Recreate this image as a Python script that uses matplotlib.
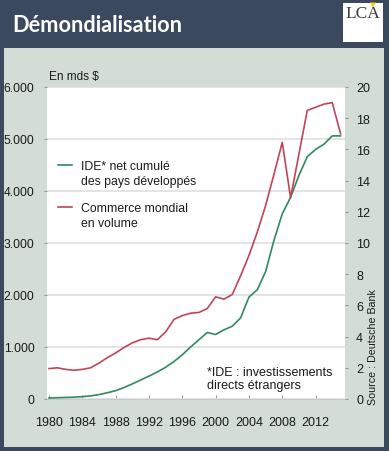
import matplotlib
matplotlib.use("Agg")
import matplotlib.pyplot as plt
from matplotlib.patches import Rectangle, Polygon
from matplotlib.lines import Line2D
from matplotlib.ticker import FuncFormatter

plt.rcParams['font.family'] = ['Liberation Sans', 'DejaVu Sans']

years = list(range(1980, 2016))

# IDE net cumulé des pays développés (mds $, axe gauche)
ide = [20, 25, 30, 35, 45, 60, 85, 120, 160, 220,
       290, 365, 440, 520, 610, 720, 850, 1000, 1140, 1280,
       1240, 1330, 1400, 1560, 1960, 2100, 2450, 3050, 3560, 3880,
       4300, 4660, 4800, 4900, 5060, 5060]

# Commerce mondial en volume (milliers de mds $, axe droit)
commerce = [1.95, 2.0, 1.9, 1.84, 1.9, 2.0, 2.3, 2.65, 2.95, 3.3,
            3.6, 3.8, 3.9, 3.8, 4.3, 5.1, 5.35, 5.5, 5.55, 5.8,
            6.55, 6.4, 6.7, 7.9, 9.2, 10.7, 12.4, 14.4, 16.45, 12.9,
            15.7, 18.5, 18.7, 18.9, 19.0, 17.0]

xticks = [1980, 1984, 1988, 1992, 1996, 2000, 2004, 2008, 2012]
left_ticks = [0, 1000, 2000, 3000, 4000, 5000, 6000]
right_ticks = [0, 2, 4, 6, 8, 10, 12, 14, 16, 18, 20]

NAVY = '#3a495d'
PANEL = '#d3ddd6'
GREEN = '#2f8a5c'
RED = '#c04558'
INK = '#1a1a1a'
W, H = 389, 452

fig = plt.figure(figsize=(W / 100, H / 100), dpi=100, facecolor=NAVY)

# panneau gris-vert
fig.patches.append(Rectangle((3.5 / W, 1 - 448 / H), (384 - 3.5) / W, (448 - 49) / H,
                             transform=fig.transFigure, facecolor=PANEL, edgecolor='none', zorder=-2))
# logo LCA
fig.patches.append(Rectangle((343 / W, 1 - 43 / H), 40 / W, 39 / H,
                             transform=fig.transFigure, facecolor='white', edgecolor='none', zorder=-2))
fig.patches.append(Polygon([(370 / W, 1 - 3.5 / H), (376 / W, 1 - 3.5 / H), (373 / W, 1 - 9 / H)],
                           closed=True, transform=fig.transFigure, facecolor='#f2d21b',
                           edgecolor='none', zorder=-1))
fig.text(363 / W, 1 - 14 / H, 'LCA', family=['Liberation Serif', 'DejaVu Serif'],
         fontsize=12.5, color='#3a3a3a', ha='center', va='center')

fig.text(12 / W, 1 - 25.5 / H, 'Démondialisation', family=['Lato', 'DejaVu Sans'],
         fontweight='bold', fontsize=15.7, color='white', ha='left', va='center')

ax = fig.add_axes([47 / W, 1 - 400 / H, 298 / W, 312 / H])
ax.set_facecolor('white')
ax.plot(years, ide, color=GREEN, lw=1.2, zorder=3)
ax.set_xlim(1979.76, 2015.53)
ax.set_ylim(0, 6000)
ax.set_xticks(xticks)
ax.set_yticks(left_ticks)
ax.yaxis.set_major_formatter(FuncFormatter(lambda v, p: f"{int(v):,}".replace(',', '.')))
ax.grid(axis='y', color='#e2e2e2', lw=1.3, zorder=0)
for s in ['top', 'right', 'left']:
    ax.spines[s].set_visible(False)
ax.spines['bottom'].set_color('#c8c8c8')
ax.tick_params(axis='x', direction='in', length=3, color='#999999', pad=12,
               labelsize=9, labelcolor=INK)
ax.tick_params(axis='y', length=2, color='#999999', pad=7, labelsize=8.7, labelcolor=INK)

ax2 = ax.twinx()
ax2.plot(years, commerce, color=RED, lw=1.2, zorder=3)
ax2.set_ylim(0, 20)
ax2.set_yticks(right_ticks)
for s in ax2.spines.values():
    s.set_visible(False)
ax2.tick_params(axis='y', length=2, color='#999999', pad=6, labelsize=9, labelcolor=INK)

# légende
ax.add_line(Line2D([0.037, 0.084], [0.75, 0.75], transform=ax.transAxes, color=GREEN, lw=1.2))
ax.add_line(Line2D([0.037, 0.084], [0.615, 0.615], transform=ax.transAxes, color=RED, lw=1.2))
ax.text(0.114, 0.723, "IDE* net cumulé\ndes pays développés", transform=ax.transAxes,
        fontsize=8.8, va='center', ha='left', color=INK, linespacing=1.35)
ax.text(0.114, 0.588, "Commerce mondial\nen volume", transform=ax.transAxes,
        fontsize=8.8, va='center', ha='left', color=INK, linespacing=1.35)
ax.text(0.536, 0.065, "*IDE : investissements\ndirects étrangers", transform=ax.transAxes,
        fontsize=9, va='center', ha='left', color=INK, linespacing=1.15)

fig.text(49 / W, 1 - 77 / H, 'En mds $', fontsize=8.5, color=INK, ha='left', va='center')
fig.text(373 / W, 1 - 405 / H, 'Source : Deutsche Bank', fontsize=7.7, color=INK,
         rotation=90, ha='center', va='bottom')

fig.savefig('out.png', dpi=100, facecolor=NAVY)
